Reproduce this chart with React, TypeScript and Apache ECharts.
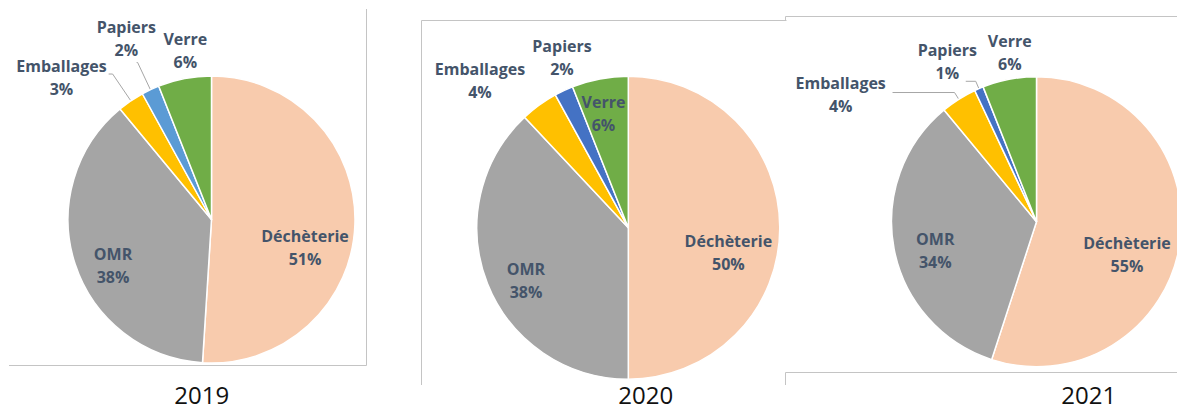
import React, { useEffect, useRef } from 'react';
import * as echarts from 'echarts';

// ---- data ----
const categories = ['Déchèterie', 'OMR', 'Emballages', 'Papiers', 'Verre'];
const years = ['2019', '2020', '2021'];
const values2019 = [51, 38, 3, 2, 6];
const values2020 = [50, 38, 4, 2, 6];
const values2021 = [55, 34, 4, 1, 6];

// ---- styles ----
const colors2019 = ['#F8CBAD', '#A5A5A5', '#FFC000', '#5B9BD5', '#70AD47'];
const colors2020 = ['#F8CBAD', '#A5A5A5', '#FFC000', '#4472C4', '#70AD47'];
const colors2021 = ['#F8CBAD', '#A5A5A5', '#FFC000', '#4472C4', '#70AD47'];
const LABEL_COLOR = '#44546A';
const LEADER_COLOR = '#A6A6A6';
const FRAME_COLOR = '#C4C4C4';
const FONT = "'Open Sans', 'DejaVu Sans', sans-serif";

type LabelSpec =
  | { inside: true; dx: number; dy: number }
  | { inside: false; line: boolean; len: number; len2: number; dist: number; dy: number };

const labels2019: LabelSpec[] = [
  { inside: true, dx: 18.8, dy: 25.7 },
  { inside: true, dx: -27.4, dy: 22.9 },
  { inside: false, line: true, len: 32.4, len2: 4, dist: 2, dy: 3.5 },
  { inside: false, line: true, len: 30, len2: 1, dist: -19.4, dy: -24.5 },
  { inside: false, line: false, len: 28.6, len2: 0, dist: -28, dy: 0 },
];
const labels2020: LabelSpec[] = [
  { inside: true, dx: 21.3, dy: 24.8 },
  { inside: true, dx: -29.1, dy: 23.8 },
  { inside: false, line: false, len: 30.4, len2: 0, dist: -3.7, dy: 0 },
  { inside: false, line: false, len: 36.2, len2: 0, dist: -43.3, dy: 0 },
  { inside: true, dx: -10.1, dy: -36.4 },
];
const labels2021: LabelSpec[] = [
  { inside: true, dx: 15.9, dy: 20.7 },
  { inside: true, dx: -27.1, dy: 14.7 },
  { inside: false, line: true, len: 8, len2: 62, dist: 6.7, dy: 2.2 },
  { inside: false, line: true, len: 8, len2: 10, dist: -11.3, dy: -19.6 },
  { inside: false, line: false, len: 27.5, len2: 0, dist: -27.5, dy: 0 },
];

const pies = [
  { year: years[0], values: values2019, colors: colors2019, labels: labels2019, center: [211.5, 219.5], radius: 143.5, yearPos: [201.7, 394] },
  { year: years[1], values: values2020, colors: colors2020, labels: labels2020, center: [628.3, 227.7], radius: 151.5, yearPos: [645.8, 394] },
  { year: years[2], values: values2021, colors: colors2021, labels: labels2021, center: [1036.5, 221.7], radius: 145, yearPos: [1088.7, 394] },
];

function padFor(spec: LabelSpec): number[] {
  if (spec.inside) {
    return [
      Math.max(0, 2 * spec.dy),
      Math.max(0, -2 * spec.dx),
      Math.max(0, -2 * spec.dy),
      Math.max(0, 2 * spec.dx),
    ];
  }
  return [Math.max(0, 2 * spec.dy), 0, Math.max(0, -2 * spec.dy), 0];
}

const richStyle = {
  a: {
    align: 'center',
    fontFamily: FONT,
    fontWeight: 'bold',
    fontSize: 16,
    lineHeight: 23,
    color: LABEL_COLOR,
  },
};

function buildSeries(pie: (typeof pies)[number]) {
  return {
    type: 'pie',
    center: pie.center,
    radius: pie.radius,
    startAngle: 90,
    clockwise: true,
    avoidLabelOverlap: false,
    silent: true,
    labelLayout: { hideOverlap: false, moveOverlap: null },
    itemStyle: { borderColor: '#ffffff', borderWidth: 1.5 },
    emphasis: { disabled: true },
    label: {
      show: true,
      color: LABEL_COLOR,
      fontFamily: FONT,
      fontWeight: 'bold',
      fontSize: 16,
      lineHeight: 23,
      formatter: (p: any) => `{a|${p.name}}\n{a|${Math.round(p.percent)}%}`,
      rich: richStyle,
    },
    labelLine: { lineStyle: { color: LEADER_COLOR, width: 1 } },
    data: categories.map((name, i) => {
      const spec = pie.labels[i];
      return {
        name,
        value: pie.values[i],
        itemStyle: { color: pie.colors[i] },
        label: spec.inside
          ? { position: 'inside', padding: padFor(spec) }
          : { position: 'outside', padding: padFor(spec), distanceToLabelLine: spec.dist },
        labelLine: spec.inside
          ? { show: false }
          : { show: spec.line, length: spec.len, length2: spec.len2, lineStyle: { color: LEADER_COLOR, width: 1 } },
      };
    }),
  };
}

function frameLine(x1: number, y1: number, x2: number, y2: number) {
  return {
    type: 'line',
    silent: true,
    shape: { x1, y1, x2, y2 },
    style: { stroke: FRAME_COLOR, lineWidth: 1 },
  };
}

export default function App() {
  const ref = useRef<HTMLDivElement>(null);
  useEffect(() => {
    if (!ref.current) return;
    const chart = echarts.init(ref.current, undefined, { renderer: 'svg' });
    chart.setOption({
      animation: false,
      backgroundColor: '#ffffff',
      series: pies.map(buildSeries),
      graphic: [
        // screenshot frames
        frameLine(366.5, 9, 366.5, 365.5),
        frameLine(9, 365.5, 366.5, 365.5),
        frameLine(421.5, 20.5, 786.5, 20.5),
        frameLine(421.5, 20.5, 421.5, 385),
        frameLine(785.5, 16.5, 1177, 16.5),
        frameLine(785.5, 16.5, 785.5, 20.5),
        frameLine(785.5, 372.5, 1177, 372.5),
        frameLine(785.5, 372.5, 785.5, 385),
        ...pies.map((p) => ({
          type: 'text',
          x: p.yearPos[0],
          y: p.yearPos[1],
          silent: true,
          style: {
            text: p.year,
            fontFamily: FONT,
            fontSize: 24,
            fill: '#111111',
            align: 'center',
            verticalAlign: 'middle',
            textAlign: 'center',
            textVerticalAlign: 'middle',
          },
        })),
      ],
    });
    return () => chart.dispose();
  }, []);
  return (
    <div
      ref={ref}
      style={{ position: 'fixed', left: 0, top: 0, width: 1177, height: 409, background: '#fff' }}
    />
  );
}
